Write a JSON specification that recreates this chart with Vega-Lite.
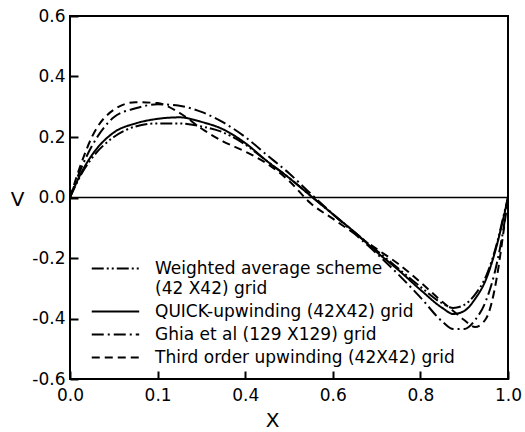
{
  "$schema": "https://vega.github.io/schema/vega-lite/v6.json",
  "width": 438,
  "height": 363,
  "autosize": {"type": "none"},
  "padding": {"left": 70, "top": 16, "right": 17, "bottom": 53},
  "background": "white",
  "config": {"view": {"stroke": "black", "strokeWidth": 2}, "font": "DejaVu Sans"},
  "datasets": {
    "curves": [
      {"x": 0, "v": 0, "s": "Weighted average scheme (42 X42) grid"},
      {"x": 0.025, "v": 0.075, "s": "Weighted average scheme (42 X42) grid"},
      {"x": 0.05, "v": 0.13, "s": "Weighted average scheme (42 X42) grid"},
      {"x": 0.1, "v": 0.2, "s": "Weighted average scheme (42 X42) grid"},
      {"x": 0.15, "v": 0.235, "s": "Weighted average scheme (42 X42) grid"},
      {"x": 0.2, "v": 0.245, "s": "Weighted average scheme (42 X42) grid"},
      {"x": 0.25, "v": 0.245, "s": "Weighted average scheme (42 X42) grid"},
      {"x": 0.3, "v": 0.235, "s": "Weighted average scheme (42 X42) grid"},
      {"x": 0.35, "v": 0.215, "s": "Weighted average scheme (42 X42) grid"},
      {"x": 0.4, "v": 0.175, "s": "Weighted average scheme (42 X42) grid"},
      {"x": 0.45, "v": 0.12, "s": "Weighted average scheme (42 X42) grid"},
      {"x": 0.5, "v": 0.065, "s": "Weighted average scheme (42 X42) grid"},
      {"x": 0.55, "v": 0.005, "s": "Weighted average scheme (42 X42) grid"},
      {"x": 0.6, "v": -0.055, "s": "Weighted average scheme (42 X42) grid"},
      {"x": 0.65, "v": -0.115, "s": "Weighted average scheme (42 X42) grid"},
      {"x": 0.7, "v": -0.175, "s": "Weighted average scheme (42 X42) grid"},
      {"x": 0.75, "v": -0.235, "s": "Weighted average scheme (42 X42) grid"},
      {"x": 0.8, "v": -0.295, "s": "Weighted average scheme (42 X42) grid"},
      {"x": 0.85, "v": -0.35, "s": "Weighted average scheme (42 X42) grid"},
      {"x": 0.875, "v": -0.365, "s": "Weighted average scheme (42 X42) grid"},
      {"x": 0.9, "v": -0.355, "s": "Weighted average scheme (42 X42) grid"},
      {"x": 0.925, "v": -0.32, "s": "Weighted average scheme (42 X42) grid"},
      {"x": 0.95, "v": -0.26, "s": "Weighted average scheme (42 X42) grid"},
      {"x": 0.975, "v": -0.15, "s": "Weighted average scheme (42 X42) grid"},
      {"x": 0.99, "v": -0.06, "s": "Weighted average scheme (42 X42) grid"},
      {"x": 1, "v": 0, "s": "Weighted average scheme (42 X42) grid"},

      {"x": 0, "v": 0, "s": "QUICK-upwinding (42X42) grid"},
      {"x": 0.025, "v": 0.08, "s": "QUICK-upwinding (42X42) grid"},
      {"x": 0.05, "v": 0.14, "s": "QUICK-upwinding (42X42) grid"},
      {"x": 0.1, "v": 0.215, "s": "QUICK-upwinding (42X42) grid"},
      {"x": 0.15, "v": 0.245, "s": "QUICK-upwinding (42X42) grid"},
      {"x": 0.2, "v": 0.26, "s": "QUICK-upwinding (42X42) grid"},
      {"x": 0.25, "v": 0.265, "s": "QUICK-upwinding (42X42) grid"},
      {"x": 0.3, "v": 0.25, "s": "QUICK-upwinding (42X42) grid"},
      {"x": 0.35, "v": 0.225, "s": "QUICK-upwinding (42X42) grid"},
      {"x": 0.4, "v": 0.18, "s": "QUICK-upwinding (42X42) grid"},
      {"x": 0.45, "v": 0.12, "s": "QUICK-upwinding (42X42) grid"},
      {"x": 0.5, "v": 0.065, "s": "QUICK-upwinding (42X42) grid"},
      {"x": 0.55, "v": 0.005, "s": "QUICK-upwinding (42X42) grid"},
      {"x": 0.6, "v": -0.055, "s": "QUICK-upwinding (42X42) grid"},
      {"x": 0.65, "v": -0.115, "s": "QUICK-upwinding (42X42) grid"},
      {"x": 0.7, "v": -0.18, "s": "QUICK-upwinding (42X42) grid"},
      {"x": 0.75, "v": -0.24, "s": "QUICK-upwinding (42X42) grid"},
      {"x": 0.8, "v": -0.305, "s": "QUICK-upwinding (42X42) grid"},
      {"x": 0.85, "v": -0.365, "s": "QUICK-upwinding (42X42) grid"},
      {"x": 0.875, "v": -0.385, "s": "QUICK-upwinding (42X42) grid"},
      {"x": 0.9, "v": -0.375, "s": "QUICK-upwinding (42X42) grid"},
      {"x": 0.925, "v": -0.335, "s": "QUICK-upwinding (42X42) grid"},
      {"x": 0.95, "v": -0.27, "s": "QUICK-upwinding (42X42) grid"},
      {"x": 0.975, "v": -0.155, "s": "QUICK-upwinding (42X42) grid"},
      {"x": 0.99, "v": -0.065, "s": "QUICK-upwinding (42X42) grid"},
      {"x": 1, "v": 0, "s": "QUICK-upwinding (42X42) grid"},

      {"x": 0, "v": 0, "s": "Ghia et al (129 X129) grid"},
      {"x": 0.025, "v": 0.095, "s": "Ghia et al (129 X129) grid"},
      {"x": 0.05, "v": 0.17, "s": "Ghia et al (129 X129) grid"},
      {"x": 0.1, "v": 0.265, "s": "Ghia et al (129 X129) grid"},
      {"x": 0.15, "v": 0.295, "s": "Ghia et al (129 X129) grid"},
      {"x": 0.2, "v": 0.308, "s": "Ghia et al (129 X129) grid"},
      {"x": 0.25, "v": 0.303, "s": "Ghia et al (129 X129) grid"},
      {"x": 0.3, "v": 0.283, "s": "Ghia et al (129 X129) grid"},
      {"x": 0.35, "v": 0.248, "s": "Ghia et al (129 X129) grid"},
      {"x": 0.4, "v": 0.2, "s": "Ghia et al (129 X129) grid"},
      {"x": 0.45, "v": 0.14, "s": "Ghia et al (129 X129) grid"},
      {"x": 0.5, "v": 0.08, "s": "Ghia et al (129 X129) grid"},
      {"x": 0.55, "v": 0.012, "s": "Ghia et al (129 X129) grid"},
      {"x": 0.6, "v": -0.055, "s": "Ghia et al (129 X129) grid"},
      {"x": 0.65, "v": -0.12, "s": "Ghia et al (129 X129) grid"},
      {"x": 0.7, "v": -0.185, "s": "Ghia et al (129 X129) grid"},
      {"x": 0.75, "v": -0.255, "s": "Ghia et al (129 X129) grid"},
      {"x": 0.8, "v": -0.33, "s": "Ghia et al (129 X129) grid"},
      {"x": 0.85, "v": -0.41, "s": "Ghia et al (129 X129) grid"},
      {"x": 0.875, "v": -0.435, "s": "Ghia et al (129 X129) grid"},
      {"x": 0.9, "v": -0.435, "s": "Ghia et al (129 X129) grid"},
      {"x": 0.925, "v": -0.405, "s": "Ghia et al (129 X129) grid"},
      {"x": 0.95, "v": -0.34, "s": "Ghia et al (129 X129) grid"},
      {"x": 0.975, "v": -0.215, "s": "Ghia et al (129 X129) grid"},
      {"x": 0.99, "v": -0.1, "s": "Ghia et al (129 X129) grid"},
      {"x": 1, "v": 0, "s": "Ghia et al (129 X129) grid"},

      {"x": 0, "v": 0, "s": "Third order upwinding (42X42) grid"},
      {"x": 0.025, "v": 0.11, "s": "Third order upwinding (42X42) grid"},
      {"x": 0.05, "v": 0.2, "s": "Third order upwinding (42X42) grid"},
      {"x": 0.1, "v": 0.29, "s": "Third order upwinding (42X42) grid"},
      {"x": 0.15, "v": 0.315, "s": "Third order upwinding (42X42) grid"},
      {"x": 0.2, "v": 0.312, "s": "Third order upwinding (42X42) grid"},
      {"x": 0.25, "v": 0.28, "s": "Third order upwinding (42X42) grid"},
      {"x": 0.3, "v": 0.228, "s": "Third order upwinding (42X42) grid"},
      {"x": 0.35, "v": 0.185, "s": "Third order upwinding (42X42) grid"},
      {"x": 0.4, "v": 0.152, "s": "Third order upwinding (42X42) grid"},
      {"x": 0.45, "v": 0.112, "s": "Third order upwinding (42X42) grid"},
      {"x": 0.5, "v": 0.055, "s": "Third order upwinding (42X42) grid"},
      {"x": 0.55, "v": -0.02, "s": "Third order upwinding (42X42) grid"},
      {"x": 0.6, "v": -0.07, "s": "Third order upwinding (42X42) grid"},
      {"x": 0.65, "v": -0.12, "s": "Third order upwinding (42X42) grid"},
      {"x": 0.7, "v": -0.17, "s": "Third order upwinding (42X42) grid"},
      {"x": 0.75, "v": -0.22, "s": "Third order upwinding (42X42) grid"},
      {"x": 0.8, "v": -0.28, "s": "Third order upwinding (42X42) grid"},
      {"x": 0.85, "v": -0.345, "s": "Third order upwinding (42X42) grid"},
      {"x": 0.875, "v": -0.375, "s": "Third order upwinding (42X42) grid"},
      {"x": 0.9, "v": -0.405, "s": "Third order upwinding (42X42) grid"},
      {"x": 0.925, "v": -0.428, "s": "Third order upwinding (42X42) grid"},
      {"x": 0.95, "v": -0.4, "s": "Third order upwinding (42X42) grid"},
      {"x": 0.975, "v": -0.26, "s": "Third order upwinding (42X42) grid"},
      {"x": 0.99, "v": -0.11, "s": "Third order upwinding (42X42) grid"},
      {"x": 1, "v": 0, "s": "Third order upwinding (42X42) grid"}
    ],
    "zero": [{"z": 0}]
  },
  "layer": [
    {
      "data": {"name": "curves"},
      "mark": {"type": "line", "color": "black", "strokeWidth": 2, "interpolate": "monotone"},
      "encoding": {
        "x": {
          "field": "x", "type": "quantitative",
          "scale": {"domain": [0, 1], "nice": false, "zero": false},
          "axis": {
            "values": [0, 0.2, 0.4, 0.6, 0.8, 1.0],
            "labelExpr": "datum.value == 0.2 ? '0.1' : format(datum.value, '.1f')",
            "title": "X", "titleFontSize": 20, "titleFontWeight": "normal", "titleColor": "black",
            "titleX": 202, "titleY": 41, "titleBaseline": "middle", "titleAlign": "center",
            "tickSize": -8, "tickColor": "black", "tickWidth": 2,
            "domain": false, "grid": false,
            "labelFontSize": 17, "labelColor": "black", "labelPadding": 16,
            "labelFlush": false, "labelOverlap": false
          }
        },
        "y": {
          "field": "v", "type": "quantitative",
          "scale": {"domain": [-0.6, 0.6], "nice": false, "zero": false},
          "axis": {
            "values": [-0.6, -0.4, -0.2, 0, 0.2, 0.4, 0.6],
            "labelExpr": "(datum.value < 0 ? '-' : '') + format(abs(datum.value), '.1f')",
            "title": "V", "titleFontSize": 20, "titleFontWeight": "normal", "titleColor": "black",
            "titleAngle": 0, "titleX": -53, "titleY": 183, "titleBaseline": "middle", "titleAlign": "center",
            "tickSize": -8, "tickColor": "black", "tickWidth": 2,
            "domain": false, "grid": false,
            "labelFontSize": 17, "labelColor": "black", "labelPadding": 13,
            "labelFlush": false, "labelOverlap": false
          }
        },
        "strokeDash": {
          "field": "s", "type": "nominal",
          "scale": {
            "domain": ["Weighted average scheme (42 X42) grid", "QUICK-upwinding (42X42) grid", "Ghia et al (129 X129) grid", "Third order upwinding (42X42) grid"],
            "range": [[12, 3, 2, 3, 2, 3], [1, 0], [12, 4, 2, 4], [8, 5]]
          },
          "legend": {
            "orient": "none", "legendX": 18, "legendY": 244, "title": null, "padding": 0,
            "gridAlign": "none",
            "symbolType": "M-1,0H9", "symbolSize": 90, "symbolStrokeWidth": 2, "symbolStrokeColor": "black",
            "labelFontSize": 17, "labelColor": "black", "labelOffset": 50, "rowPadding": 5, "labelLimit": 500,
            "labelExpr": "datum.label == 'Weighted average scheme (42 X42) grid' ? ['Weighted average scheme', '(42 X42) grid'] : datum.label",
            "encode": {"labels": {"update": {"lineHeight": {"value": 20}}}}
          }
        }
      }
    },
    {
      "data": {"name": "zero"},
      "mark": {"type": "rule", "color": "black", "strokeWidth": 1.5},
      "encoding": {"y": {"datum": 0}}
    }
  ]
}
